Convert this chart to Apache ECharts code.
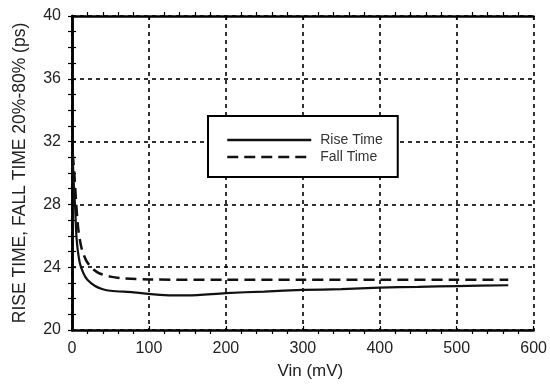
<!DOCTYPE html>
<html>
<head>
<meta charset="utf-8">
<script src="https://cdn.jsdelivr.net/npm/echarts@6/dist/echarts.min.js"></script>
<style>
  html, body { margin: 0; padding: 0; background: #fff; }
  #chart { width: 550px; height: 385px; }
</style>
</head>
<body>
<div id="chart"></div>
<script>
// Rise and fall time (20%-80%) versus input amplitude
const riseVin  = [1, 2, 4, 6, 10, 15, 20, 30, 40, 50, 80, 100, 130, 150, 200, 250, 300, 350, 400, 450, 500, 567];
const riseTime = [31.0, 29.6, 27.9, 25.8, 24.3, 23.6, 23.2, 22.8, 22.6, 22.5, 22.4, 22.3, 22.2, 22.2, 22.35, 22.45, 22.55, 22.6, 22.7, 22.75, 22.8, 22.85];

const fallVin  = [1, 3, 5, 8, 12, 16, 20, 28, 36, 50, 70, 100, 200, 300, 400, 500, 567];
const fallTime = [31.2, 30.0, 28.4, 26.5, 25.3, 24.7, 24.3, 23.85, 23.6, 23.4, 23.28, 23.22, 23.2, 23.2, 23.2, 23.2, 23.2];

const seriesNames = ['Rise Time', 'Fall Time'];
const xTitle = 'Vin (mV)';
const yTitle = 'RISE TIME, FALL TIME 20%-80% (ps)';

const FONT = '"Liberation Sans", Arial, Helvetica, sans-serif';
const frame = { show: true, lineStyle: { color: '#000', width: 2.5 } };
const inTick = { show: true, inside: true, length: 4, lineStyle: { color: '#000', width: 1.2 } };
const minor = n => ({ show: true, splitNumber: n, length: -4, lineStyle: { color: '#000', width: 1.2 } });
const dotted = { show: true, lineStyle: { color: '#000', width: 1.6, type: [4, 4] } };

const chart = echarts.init(document.getElementById('chart'), null, { renderer: 'canvas' });
chart.setOption({
  animation: false,
  backgroundColor: '#fff',
  grid: { left: 72, right: 15, top: 16, bottom: 52 },
  legend: {
    show: true,
    orient: 'vertical',
    left: 208, top: 116,
    padding: [17, 15, 13, 18],
    itemGap: 3,
    itemWidth: 84, itemHeight: 12,
    borderColor: '#000', borderWidth: 2,
    backgroundColor: '#fff',
    itemStyle: { opacity: 0 },
    lineStyle: { width: 2.5 },
    textStyle: { fontFamily: FONT, fontSize: 14, color: '#333', padding: [0, 0, 0, 4] },
    data: seriesNames
  },
  xAxis: [{
    type: 'value', min: 0, max: 600, interval: 100,
    axisLine: frame, axisTick: inTick, minorTick: minor(5),
    splitLine: dotted,
    axisLabel: { fontFamily: FONT, fontSize: 16, color: '#222', margin: 11 },
    name: xTitle, nameLocation: 'middle', nameGap: 33,
    nameTextStyle: { fontFamily: FONT, fontSize: 17, color: '#222', padding: [0, 0, 0, 15] }
  }, {
    type: 'value', position: 'top', min: 0, max: 600, interval: 100,
    axisLine: frame, axisTick: inTick, minorTick: minor(5),
    splitLine: { show: false }, axisLabel: { show: false }
  }],
  yAxis: [{
    type: 'value', min: 20, max: 40, interval: 4,
    axisLine: frame, axisTick: inTick, minorTick: minor(4),
    splitLine: dotted,
    axisLabel: { fontFamily: FONT, fontSize: 16, color: '#222', margin: 11 },
    name: yTitle, nameLocation: 'middle', nameGap: 43,
    nameTextStyle: { fontFamily: FONT, fontSize: 17.5, color: '#222' }
  }, {
    type: 'value', position: 'right', min: 20, max: 40, interval: 4,
    axisLine: frame, axisTick: inTick, minorTick: minor(4),
    splitLine: { show: false }, axisLabel: { show: false }
  }],
  series: [{
    name: seriesNames[0], type: 'line', smooth: 0.3, symbol: 'none',
    lineStyle: { color: '#111', width: 2.2, type: 'solid' },
    itemStyle: { color: '#111' },
    data: riseVin.map((v, i) => [v, riseTime[i]]),
    z: 5
  }, {
    name: seriesNames[1], type: 'line', smooth: 0.3, symbol: 'none',
    lineStyle: { color: '#111', width: 2.5, type: [11, 6] },
    itemStyle: { color: '#111' },
    data: fallVin.map((v, i) => [v, fallTime[i]]),
    z: 5
  }]
});
</script>
</body>
</html>
